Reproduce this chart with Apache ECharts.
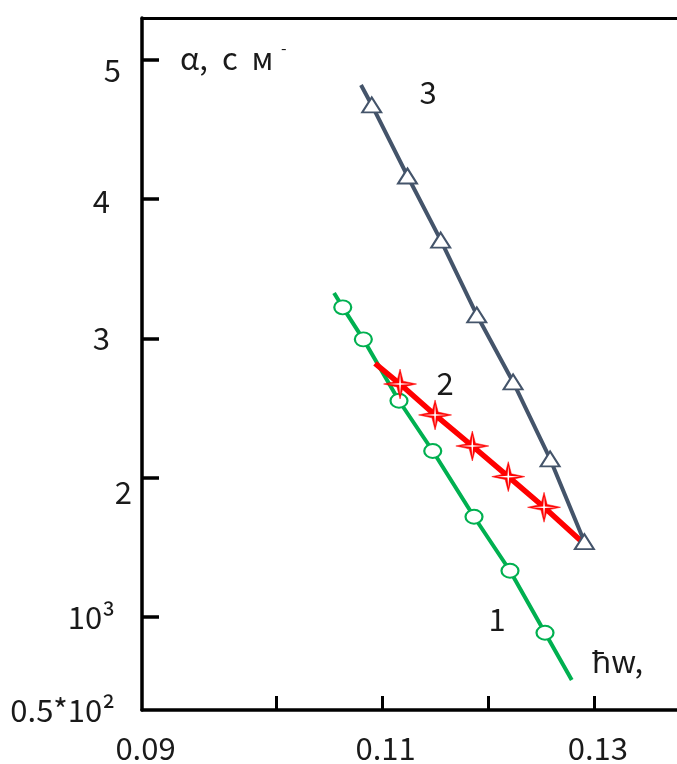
<!DOCTYPE html>
<html>
<head>
<meta charset="utf-8">
<script src="https://cdn.jsdelivr.net/npm/echarts@6/dist/echarts.min.js"></script>
<style>
html,body{margin:0;padding:0;background:#fff;}
#chart{width:677px;height:764px;}
</style>
</head>
<body>
<div id="chart"></div>
<script>
// ---- data (x: photon energy, y: absorption in units of 10^3) ----
const curve1_x = [0.10547, 0.10629, 0.10823, 0.11159, 0.11477, 0.11866, 0.12205, 0.12535, 0.12787];
const curve1_y = [3.327, 3.224, 2.994, 2.553, 2.192, 1.720, 1.332, 0.887, 0.548];
const curve1_plain = [0, 8]; // line ends without marker

const curve2_x = [0.10933, 0.11169, 0.11499, 0.11850, 0.12189, 0.12526, 0.12875];
const curve2_y = [2.822, 2.673, 2.451, 2.228, 2.008, 1.788, 1.546];
const curve2_plain = [0, 6];

const curve3_x = [0.10801, 0.10902, 0.11239, 0.11552, 0.11892, 0.12234, 0.12583, 0.12906];
const curve3_y = [4.820, 4.677, 4.167, 3.707, 3.169, 2.688, 2.135, 1.541];
const curve3_plain = [0];

const xTickValues = [0.10, 0.11, 0.12, 0.13];
const xLabelValues = [0.11, 0.13];
const xOriginLabel = '0.09';
const yTickValues = [1, 2, 3, 4, 5];
const yTickLabels = ['10³', '2', '3', '4', '5'];
const yOriginLabel = '0.5*10²';

const X_MIN = 0.08737, X_MAX = 0.13779;
const Y_MIN = 0.3321, Y_MAX = 5.3016;

const FONT = '"Noto Sans CJK JP", "Noto Sans", sans-serif';
const TXT = '#1a1a1a';
const FS = 31;

function build(xs, ys, plain) {
  return xs.map((x, i) => plain.indexOf(i) >= 0 ? {value: [x, ys[i]], symbol: 'none'} : [x, ys[i]]);
}

const yRich = {
  o: {fontSize: FS, fontFamily: FONT, color: TXT, padding: [0, 17, 0, 0]},
  t1: {fontSize: FS, fontFamily: FONT, color: TXT, padding: [0, 17, 0, 0]},
  t2: {fontSize: FS, fontFamily: FONT, color: TXT, padding: [28, 0, 0, 0]},
  t3: {fontSize: FS, fontFamily: FONT, color: TXT, padding: [0, 22, 0, 0]},
  t4: {fontSize: FS, fontFamily: FONT, color: TXT, padding: [4, 22, 0, 0]},
  t5: {fontSize: FS, fontFamily: FONT, color: TXT, padding: [20, 11, 0, 0]}
};

const STAR = 'path://M0,-10 L1.9,-1.9 L10,0 L1.9,1.9 L0,10 L-1.9,1.9 L-10,0 L-1.9,-1.9 Z';
const STAR_INNER = 'path://M0,-10 L0.7,-0.7 L10,0 L0.7,0.7 L0,10 L-0.7,0.7 L-10,0 L-0.7,-0.7 Z';

const chart = echarts.init(document.getElementById('chart'), null, {renderer: 'canvas'});
const axisLineStyle = {color: '#000', width: 3.5};

chart.setOption({
  animation: false,
  backgroundColor: '#fff',
  grid: {left: 142, right: 0, top: 18, bottom: 54, containLabel: false},
  xAxis: [{
    type: 'value', min: X_MIN, max: X_MAX,
    axisLine: {show: true, onZero: false, lineStyle: axisLineStyle},
    axisTick: {show: true, inside: true, length: 14, lineStyle: {color: '#000', width: 3}, customValues: xTickValues},
    axisLabel: {
      show: true, margin: 23, fontSize: FS, fontFamily: FONT, color: TXT,
      customValues: [X_MIN].concat(xLabelValues),
      padding: [0, 0, 0, 7],
      formatter: v => Math.abs(v - X_MIN) < 1e-7 ? xOriginLabel : v.toFixed(2)
    },
    splitLine: {show: false}
  }, {
    type: 'value', min: X_MIN, max: X_MAX, position: 'top',
    axisLine: {show: true, onZero: false, lineStyle: {color: '#000', width: 3}},
    axisTick: {show: false}, axisLabel: {show: false}, splitLine: {show: false}
  }],
  yAxis: {
    type: 'value', min: Y_MIN, max: Y_MAX,
    axisLine: {show: true, onZero: false, lineStyle: axisLineStyle},
    axisTick: {show: true, inside: true, length: 17, lineStyle: {color: '#000', width: 3.5}, customValues: yTickValues},
    axisLabel: {
      show: true, margin: 10, fontSize: FS, fontFamily: FONT, color: TXT,
      customValues: [Y_MIN].concat(yTickValues),
      formatter: v => {
        if (Math.abs(v - Y_MIN) < 1e-7) return '{o|' + yOriginLabel + '}';
        const i = yTickValues.indexOf(Math.round(v));
        return '{t' + Math.round(v) + '|' + yTickLabels[i] + '}';
      },
      rich: yRich
    },
    splitLine: {show: false}
  },
  series: [{
    name: '1', type: 'line', data: build(curve1_x, curve1_y, curve1_plain),
    symbol: 'circle', symbolSize: [17, 14], showAllSymbol: true,
    lineStyle: {color: '#00B050', width: 4},
    itemStyle: {color: '#fff', borderColor: '#00B050', borderWidth: 2}
  }, {
    name: '2', type: 'line', data: build(curve2_x, curve2_y, curve2_plain),
    symbol: STAR, symbolSize: [33, 30], symbolKeepAspect: false, showAllSymbol: true,
    lineStyle: {color: '#FF0000', width: 5.5},
    itemStyle: {color: '#FF0000', borderColor: '#FF0000', borderWidth: 0.5}
  }, {
    name: '2-highlight', type: 'scatter', data: build(curve2_x, curve2_y, curve2_plain),
    symbol: STAR_INNER, symbolSize: [24, 22], symbolKeepAspect: false, z: 5,
    itemStyle: {color: '#ffffff', opacity: 1, borderWidth: 0}, silent: true
  }, {
    name: '3', type: 'line', data: build(curve3_x, curve3_y, curve3_plain), z: 6,
    symbol: 'triangle', symbolSize: [19, 15], showAllSymbol: true,
    lineStyle: {color: '#44546A', width: 4},
    itemStyle: {color: '#fff', borderColor: '#44546A', borderWidth: 2}
  }],
  graphic: [
    {type: 'text', left: 180, top: 43, style: {text: 'α,  с  м', fontSize: 31, fontFamily: FONT, fill: TXT}},
    {type: 'text', left: 281, top: 40, style: {text: '-', fontSize: 16, fontFamily: FONT, fill: TXT}},
    {type: 'text', x: 428, y: 92, style: {text: '3', fontSize: FS, fontFamily: FONT, fill: TXT, align: 'center', verticalAlign: 'middle'}},
    {type: 'text', x: 445, y: 383, style: {text: '2', fontSize: FS, fontFamily: FONT, fill: TXT, align: 'center', verticalAlign: 'middle'}},
    {type: 'text', x: 497, y: 619, style: {text: '1', fontSize: FS, fontFamily: FONT, fill: TXT, align: 'center', verticalAlign: 'middle'}},
    {type: 'text', x: 592, y: 661, style: {text: 'ħw,', fontSize: FS, fontFamily: FONT, fill: TXT, align: 'left', verticalAlign: 'middle'}}
  ]
});
</script>
</body>
</html>
